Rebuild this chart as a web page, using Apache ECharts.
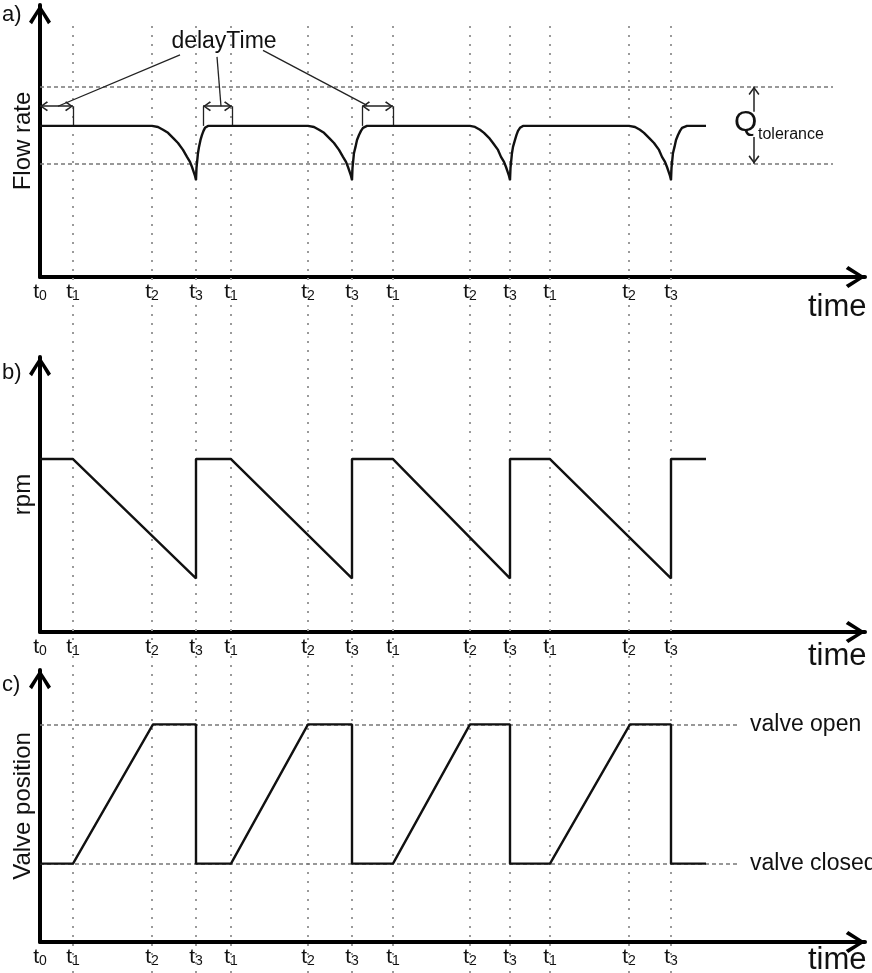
<!DOCTYPE html>
<html><head><meta charset="utf-8">
<script src="https://cdn.jsdelivr.net/npm/echarts@6/dist/echarts.min.js"></script>
<style>html,body{margin:0;padding:0;background:#fff}#c{width:872px;height:973px}</style>
</head><body><div id="c"></div>
<script>
// ---------- data (time in arbitrary units, levels normalised) ----------
const tickTimes = [0, 33, 112, 156, 191, 268, 312, 353, 430, 470, 510, 589, 631];
const tickNames = ['t0','t1','t2','t3','t1','t2','t3','t1','t2','t3','t1','t2','t3'];

const flowRate = [
  [0,1],[112,1],[118,0.993],[123,0.974],[128,0.954],[133,0.921],[138,0.887],[143,0.841],[147,0.795],[150,0.762],[152,0.728],[154,0.689],[155,0.669],[156,0.642],
  [156.5,0.722],[157,0.755],[158,0.821],[159,0.861],[160.5,0.907],[162,0.94],[163.5,0.967],[165,0.987],[168,1],
  [268,1],[274,0.993],[279,0.974],[284,0.954],[289,0.921],[294,0.887],[299,0.841],[303,0.795],[306,0.762],[308,0.728],[310,0.689],[311,0.669],[312,0.642],
  [312.5,0.722],[313,0.755],[314,0.821],[315.5,0.861],[317,0.907],[319,0.94],[321,0.967],[323,0.987],[327,1],
  [430,1],[435,0.993],[440,0.974],[444,0.954],[449,0.921],[453,0.887],[458,0.841],[461,0.795],[464,0.762],[466,0.728],[468,0.689],[469,0.669],[470,0.642],
  [470.5,0.722],[471,0.755],[472,0.821],[473,0.861],[475,0.907],[476.5,0.94],[478,0.967],[480,0.987],[483,1],
  [589,1],[595,0.993],[600,0.974],[604,0.954],[609,0.921],[614,0.887],[619,0.841],[622,0.795],[625,0.762],[627,0.728],[629,0.689],[630,0.669],[631,0.642],
  [631.5,0.722],[632,0.755],[633,0.821],[634.5,0.861],[636,0.907],[638,0.94],[640,0.967],[642,0.987],[647,1],
  [666,1]
];
const rpm = [
  [0,1],[33,1],[156,0.31],[156,1],[191,1],[312,0.31],[312,1],[353,1],[470,0.31],[470,1],[510,1],[631,0.31],[631,1],[666,1]
];
const valvePosition = [
  [0,0.36],[33,0.36],[113,1],[156,1],[156,0.36],[191,0.36],[268,1],[312,1],[312,0.36],[353,0.36],
  [430,1],[470,1],[470,0.36],[510,0.36],[590,1],[631,1],[631,0.36],[666,0.36]
];
const flowTolerance = [1.26, 0.75];
const valveLevels = [1, 0.36];
const valveLevelNames = ['valve open', 'valve closed'];
const delaySpans = [[0,33],[163,192],[322,353]];
const delayLevel = 1.13;
const delayPointers = [[[140,1.47],[18,1.13]], [[177,1.457],[181,1.13]], [[223,1.5],[327,1.136]]];
const qArrowTime = 714;
const qArrowGap = [1.093, 0.927];

// ---------- styling ----------
const FONT = '"Liberation Sans", Arial, sans-serif';
const INK = '#111';
const BIG_ARROW = 'path://M11,-19M11,0L22,17L19,19.5L11,6L3,19.5L0,17Z';
const THIN_ARROW = 'path://M11,-17.5M11,0L22,15L19.5,17.5L11,5L2.5,17.5L0,15Z';
const grids = [
  {left:40, right:7, top:5, bottom:696, outerBoundsMode:'none', containLabel:false},
  {left:40, right:7, top:357, bottom:341, outerBoundsMode:'none', containLabel:false},
  {left:40, right:7, top:670, bottom:31, outerBoundsMode:'none', containLabel:false},
  {left:40, right:7, top:23, bottom:0, outerBoundsMode:'none', containLabel:false}
];
const yMax = [1.8, 1.59, 1.25];
const yNames = ['Flow rate', 'rpm', 'Valve position'];
const timeNamePad = [15, 9, 3];

const tickLabel = v => {
  const i = tickTimes.indexOf(v);
  if (i < 0) return '';
  const n = tickNames[i];
  return '{t|' + n[0] + '}{s|' + n.slice(1) + '}';
};

const xAxes = [0,1,2].map(i => ({
  type:'value', gridIndex:i, min:0, max:825,
  axisLine:{show:true, onZero:false, lineStyle:{color:'#000', width:4}, symbol:['none', BIG_ARROW], symbolSize:[22,39]},
  axisTick:{show:false}, splitLine:{show:false},
  axisLabel:{customValues: tickTimes, formatter: tickLabel, margin:5, hideOverlap:false,
    rich:{
      t:{fontSize:21, lineHeight:21, verticalAlign:'top', color:INK, fontFamily:FONT},
      s:{fontSize:14, lineHeight:14, verticalAlign:'bottom', padding:[10,0,0,0], color:INK, fontFamily:FONT}
    }},
  name:'time', nameLocation:'end', nameGap:-57,
  nameTextStyle:{fontSize:31, color:INK, fontFamily:FONT, align:'left', verticalAlign:'top', padding:[timeNamePad[i],0,0,0]}
}));
xAxes.push({type:'value', gridIndex:3, min:0, max:825, show:false});

const yAxes = [0,1,2].map(i => ({
  type:'value', gridIndex:i, min:0, max:yMax[i],
  axisLine:{show:true, onZero:false, lineStyle:{color:'#000', width:4}, symbol:['none', BIG_ARROW], symbolSize:[22,39]},
  axisTick:{show:false}, axisLabel:{show:false}, splitLine:{show:false},
  name:yNames[i], nameLocation:'middle', nameRotate:90, nameGap:5,
  nameTextStyle:{fontSize:24, color:INK, fontFamily:FONT}
}));
yAxes.push({type:'value', gridIndex:3, min:0, max:1, show:false});

const mlBase = {silent:true, animation:false, label:{show:false}, emphasis:{disabled:true}};
const emptyLine = (gi, ml, z) => ({type:'line', xAxisIndex:gi, yAxisIndex:gi, data:[], z:z||3, markLine:Object.assign({}, mlBase, ml)});
const curve = (gi, data) => ({type:'line', xAxisIndex:gi, yAxisIndex:gi, data:data, symbol:'none', showSymbol:false,
  lineStyle:{color:INK, width:2.4}, itemStyle:{color:INK}, z:5, silent:true});

const series = [
  // dotted time grid through all panels
  emptyLine(3, {symbol:['none','none'], lineStyle:{color:'#9a9a9a', width:2, type:[2,7]},
    data: tickTimes.slice(1).map(t => ({xAxis:t}))}, 1),
  // tolerance band
  emptyLine(0, {symbol:['none','none'], lineStyle:{color:'#777', width:1.6, type:[4,3]},
    data: flowTolerance.map(v => [{coord:[0,v]},{coord:[793,v]}])}),
  // delay brackets and pointers
  emptyLine(0, {symbol:['none','none'], lineStyle:{color:'#222', width:1.3, type:'solid'},
    data: delaySpans.flatMap(s => s.filter(t => t > 0).map(t => [{coord:[t,1]},{coord:[t,delayLevel]}]))
      .concat(delayPointers.map(p => [{coord:p[0]},{coord:p[1]}]))}),
  // delay double arrows
  emptyLine(0, {symbol:[THIN_ARROW, THIN_ARROW], symbolSize:[10,16], lineStyle:{color:'#222', width:1.5, type:'solid'}, itemStyle:{color:'#222'},
    data: delaySpans.map(s => [{coord:[s[0],delayLevel]},{coord:[s[1],delayLevel]}])}),
  // Q tolerance arrows
  emptyLine(0, {symbolSize:[11,17], lineStyle:{color:'#222', width:1.5, type:'solid'}, itemStyle:{color:'#222'},
    data: [
      [{coord:[qArrowTime, flowTolerance[0]], symbol:THIN_ARROW},{coord:[qArrowTime, qArrowGap[0]], symbol:'none'}],
      [{coord:[qArrowTime, qArrowGap[1]], symbol:'none'},{coord:[qArrowTime, flowTolerance[1]], symbol:THIN_ARROW}]
    ]}),
  // valve levels
  emptyLine(2, {symbol:['none','none'], lineStyle:{color:'#777', width:1.6, type:[4,3]},
    label:{show:true, position:'end', formatter:'{b}', distance:12, fontSize:23, color:INK, fontFamily:FONT},
    data: valveLevels.map((v,i) => [{coord:[0,v], name:valveLevelNames[i]},{coord:[698,v]}])}),
  curve(0, flowRate),
  curve(1, rpm),
  curve(2, valvePosition)
];

const txt = (text, x, y, size, align) => ({type:'text', x:x, y:y, z:100, silent:true,
  style:{text:text, x:0, y:0, fill:INK, font: size + 'px ' + FONT, fontSize:size, fontFamily:FONT,
    align:align||'left', verticalAlign:'middle', textAlign:align||'left', textVerticalAlign:'middle'}});

const chart = echarts.init(document.getElementById('c'), null, {renderer:'canvas'});
chart.setOption({
  animation:false,
  backgroundColor:'#fff',
  textStyle:{fontFamily:FONT},
  grid:grids, xAxis:xAxes, yAxis:yAxes, series:series,
  graphic:[
    txt('a)', 2, 15, 22), txt('b)', 2, 373, 22), txt('c)', 2, 685, 22),
    txt('delayTime', 224, 42, 23, 'center'),
    txt('Q', 734, 123, 30), txt('tolerance', 758, 135, 16)
  ]
});
</script></body></html>
